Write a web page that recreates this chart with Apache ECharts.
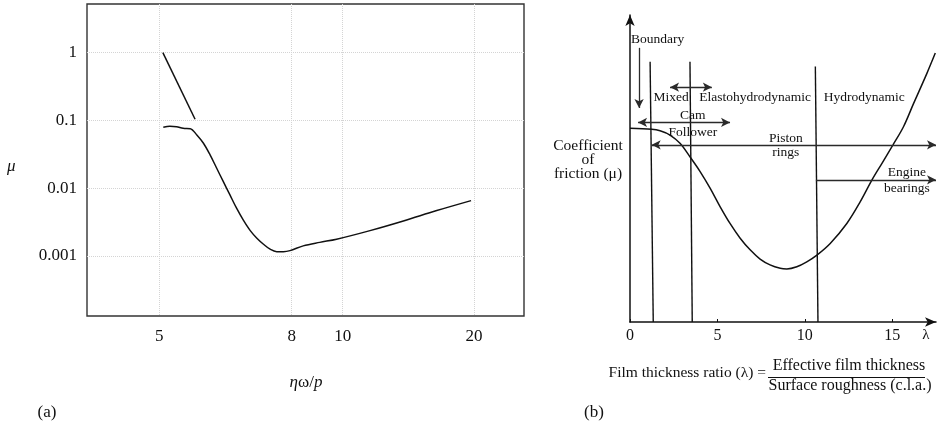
<!DOCTYPE html>
<html>
<head>
<meta charset="utf-8">
<script src="https://cdn.jsdelivr.net/npm/echarts@6/dist/echarts.min.js"></script>
<style>
  html, body { margin: 0; padding: 0; background: #fff; }
  #chart { width: 939px; height: 435px; }
</style>
</head>
<body>
<div id="chart"></div>
<script>
// ---------- (a) friction coefficient against the bearing parameter ----------
const aTickValues = [5, 8, 10, 20];
const aMuTicks = [0.001, 0.01, 0.1, 1];
// steep boundary segment
const aBoundaryX = [5.08, 5.81];
const aBoundaryMu = [1.0, 0.104];
// Stribeck-type curve
const aCurveX = [5.09, 5.24, 5.39, 5.54, 5.70, 5.85, 6.00, 6.15, 6.30, 6.45, 6.60, 6.75, 6.90,
                 7.06, 7.21, 7.36, 7.51, 7.66, 7.81, 7.96, 8.45, 9.10, 9.76, 12.08, 14.62, 17.16, 19.77];
const aCurveMu = [0.0794, 0.0821, 0.0810, 0.0767, 0.0757, 0.0611, 0.0461, 0.0310, 0.0197, 0.0125,
                  0.00796, 0.00507, 0.00341, 0.00237, 0.00183, 0.00149, 0.00126, 0.00116, 0.00116,
                  0.00120, 0.00141, 0.00159, 0.00177, 0.00237, 0.00329, 0.00468, 0.00656];

// ---------- (b) lubrication regimes against film thickness ratio ----------
const bTicks = [0, 5, 10, 15];
const bCurveLambda = [0, 1.24, 1.72, 2.29, 2.86, 3.43, 4.01, 4.58, 5.15, 5.72, 6.30, 6.87, 7.44, 8.01,
                      8.59, 8.97, 9.54, 10.11, 10.69, 11.45, 12.40, 13.17, 13.84, 14.41, 15.04, 15.64,
                      16.22, 16.98, 17.46];
const bCurveMu = [6.31, 6.28, 6.23, 6.09, 5.82, 5.38, 4.90, 4.36, 3.76, 3.21, 2.73, 2.35, 2.05, 1.86,
                  1.75, 1.73, 1.80, 1.96, 2.18, 2.56, 3.21, 3.92, 4.63, 5.17, 5.77, 6.36, 7.12, 8.10, 8.76];
// regime boundaries: lambda at top and bottom, and height of the top
const bDividerTopLambda = [1.15, 3.43, 10.60];
const bDividerBottomLambda = [1.33, 3.56, 10.75];
const bDividerTop = [8.48, 8.48, 8.32];
// application ranges: [lambda start, lambda end, level, arrow at start, arrow at end]
const bRanges = [
  [2.29, 4.68, 7.65, true, true],     // mixed / EHL
  [0.46, 5.72, 6.50, true, true],     // cam follower
  [1.24, 17.5, 5.77, true, true],     // piston rings
  [10.63, 17.5, 4.63, false, true]    // engine bearings
];
const bBoundaryArrow = [0.52, 8.93, 6.97];   // lambda, from, to
const bLabels = [
  [1.58, 9.19, 'Boundary'],
  [2.35, 7.30, 'Mixed'],
  [7.16, 7.30, 'Elastohydrodynamic'],
  [13.39, 7.30, 'Hydrodynamic'],
  [3.59, 6.72, 'Cam'],
  [3.59, 6.19, 'Follower'],
  [8.91, 5.98, 'Piston'],
  [8.91, 5.51, 'rings'],
  [15.84, 4.88, 'Engine'],
  [15.84, 4.36, 'bearings']
];

// ---------- layout ----------
const SERIF = "'Liberation Serif', 'Times New Roman', serif";
const INK = '#111';

// the horizontal scale of (a) is a hand-drawn, non-uniform one: piecewise linear between ticks
const aScaleSteps = [0, 2.6, 3.6, 6.18];
function warp(v) {
  let i = 0;
  if (v >= aTickValues[aTickValues.length - 1]) i = aTickValues.length - 2;
  else { while (i < aTickValues.length - 2 && v > aTickValues[i + 1]) i++; }
  const t = (v - aTickValues[i]) / (aTickValues[i + 1] - aTickValues[i]);
  return aScaleSteps[i] + t * (aScaleSteps[i + 1] - aScaleSteps[i]);
}
function unwarp(u) {
  let best = 0;
  for (let i = 0; i < aScaleSteps.length; i++) {
    if (Math.abs(aScaleSteps[i] - u) < Math.abs(aScaleSteps[best] - u)) best = i;
  }
  return aTickValues[best];
}

const chart = echarts.init(document.getElementById('chart'), null, { renderer: 'canvas' });

const dividerSeries = bDividerTopLambda.map((lt, i) => ({
  type: 'line', xAxisIndex: 1, yAxisIndex: 1, symbol: 'none', silent: true,
  lineStyle: { color: INK, width: 1.4 },
  data: [[lt, bDividerTop[i]], [bDividerBottomLambda[i], 0]]
}));

const arrowSize = [7, 9];
const rangeLines = bRanges.map(r => [
  { coord: [r[0], r[2]], symbol: r[3] ? 'arrow' : 'none', symbolSize: arrowSize },
  { coord: [r[1], r[2]], symbol: r[4] ? 'arrow' : 'none', symbolSize: arrowSize }
]);
rangeLines.push([
  { coord: [bBoundaryArrow[0], bBoundaryArrow[1]], symbol: 'none' },
  { coord: [bBoundaryArrow[0], bBoundaryArrow[2]], symbol: 'arrow', symbolSize: arrowSize }
]);

const option = {
  animation: false,
  backgroundColor: '#fff',
  textStyle: { fontFamily: SERIF, color: INK },
  grid: [
    { left: 87, top: 4, width: 437, height: 312, show: true, borderColor: '#333', borderWidth: 1.4, backgroundColor: 'transparent' },
    { left: 630, top: 15, width: 306, height: 307 }
  ],
  xAxis: [
    {
      gridIndex: 0, type: 'value', min: -1.42, max: 7.16,
      axisLine: { show: false }, axisTick: { show: false, customValues: aTickValues.map(warp) },
      axisLabel: { customValues: aTickValues.map(warp), formatter: u => String(unwarp(u)),
                   fontFamily: SERIF, fontSize: 17, color: INK, margin: 12 },
      splitLine: { show: true, lineStyle: { color: '#d4d4d4', type: 'dotted', width: 1 } }
    },
    {
      gridIndex: 1, type: 'value', min: 0, max: 17.5,
      axisLine: { show: true, onZero: false, symbol: ['none', 'arrow'], symbolSize: [7, 11],
                  lineStyle: { color: INK, width: 1.5 } },
      axisTick: { show: true, inside: true, length: 3, customValues: bTicks, lineStyle: { color: INK } },
      axisLabel: { customValues: bTicks, fontFamily: SERIF, fontSize: 16, color: INK, margin: 6 },
      splitLine: { show: false }
    }
  ],
  yAxis: [
    {
      gridIndex: 0, type: 'log', logBase: 10, min: Math.pow(10, -3.885), max: Math.pow(10, 0.718),
      axisLine: { show: false }, axisTick: { show: false, customValues: aMuTicks },
      axisLabel: { customValues: aMuTicks, formatter: v => String(Number(v.toPrecision(2))),
                   fontFamily: SERIF, fontSize: 17, color: INK, margin: 10 },
      splitLine: { show: true, lineStyle: { color: '#d4d4d4', type: 'dotted', width: 1 } }
    },
    {
      gridIndex: 1, type: 'value', min: 0, max: 10,
      axisLine: { show: true, onZero: false, symbol: ['none', 'arrow'], symbolSize: [7, 11],
                  lineStyle: { color: INK, width: 1.5 } },
      axisTick: { show: false }, axisLabel: { show: false }, splitLine: { show: false }
    }
  ],
  series: [
    {
      type: 'line', xAxisIndex: 0, yAxisIndex: 0, symbol: 'none', silent: true,
      lineStyle: { color: INK, width: 1.5 },
      data: aBoundaryX.map((x, i) => [warp(x), aBoundaryMu[i]])
    },
    {
      type: 'line', xAxisIndex: 0, yAxisIndex: 0, symbol: 'none', smooth: 0.35, silent: true,
      lineStyle: { color: INK, width: 1.5 },
      data: aCurveX.map((x, i) => [warp(x), aCurveMu[i]])
    },
    {
      type: 'line', xAxisIndex: 1, yAxisIndex: 1, symbol: 'none', smooth: 0.35, silent: true,
      lineStyle: { color: INK, width: 1.5 },
      data: bCurveLambda.map((l, i) => [l, bCurveMu[i]]),
      markLine: {
        silent: true, animation: false,
        label: { show: false },
        lineStyle: { color: '#2a2a2a', width: 1.3, type: 'solid' },
        data: rangeLines
      }
    },
    ...dividerSeries,
    {
      // regime and application names, placed in (lambda, mu) coordinates
      type: 'custom', xAxisIndex: 1, yAxisIndex: 1, silent: true,
      data: bLabels,
      renderItem: (params, api) => {
        const p = api.coord([api.value(0), api.value(1)]);
        return {
          type: 'text', x: p[0], y: p[1],
          style: { text: bLabels[params.dataIndex][2], font: '13.5px ' + SERIF, fill: INK,
                   align: 'center', verticalAlign: 'middle' }
        };
      }
    }
  ],
  graphic: [
    { type: 'text', left: 7, top: 158, style: { text: 'μ', font: 'italic 17px ' + SERIF, fill: INK } },
    {
      type: 'text', x: 306, y: 383,
      style: {
        text: '{i|η}{r|ω/}{i|p}', align: 'center', verticalAlign: 'middle',
        rich: {
          i: { font: 'italic 17px ' + SERIF, fill: INK },
          r: { font: '17px ' + SERIF, fill: INK }
        }
      }
    },
    { type: 'text', x: 47, y: 413, style: { text: '(a)', font: '17px ' + SERIF, fill: INK, align: 'center', verticalAlign: 'middle' } },
    { type: 'text', x: 594, y: 413, style: { text: '(b)', font: '17px ' + SERIF, fill: INK, align: 'center', verticalAlign: 'middle' } },
    {
      type: 'text', x: 588, y: 159.5,
      style: { text: 'Coefficient\nof\nfriction (μ)', font: '15.5px ' + SERIF, lineHeight: 14,
               fill: INK, align: 'center', verticalAlign: 'middle' }
    },
    { type: 'text', x: 926, y: 335, style: { text: 'λ', font: '15px ' + SERIF, fill: INK, align: 'center', verticalAlign: 'middle' } },
    { type: 'text', x: 766, y: 373, style: { text: 'Film thickness ratio (λ) =', font: '15.5px ' + SERIF, fill: INK, align: 'right', verticalAlign: 'middle' } },
    { type: 'text', x: 849, y: 366, style: { text: 'Effective film thickness', font: '16px ' + SERIF, fill: INK, align: 'center', verticalAlign: 'middle' } },
    { type: 'line', shape: { x1: 768, y1: 377.5, x2: 925, y2: 377.5 }, style: { stroke: INK, lineWidth: 1.2 } },
    { type: 'text', x: 850, y: 386, style: { text: 'Surface roughness (c.l.a.)', font: '16px ' + SERIF, fill: INK, align: 'center', verticalAlign: 'middle' } }
  ]
};

chart.setOption(option);
</script>
</body>
</html>
